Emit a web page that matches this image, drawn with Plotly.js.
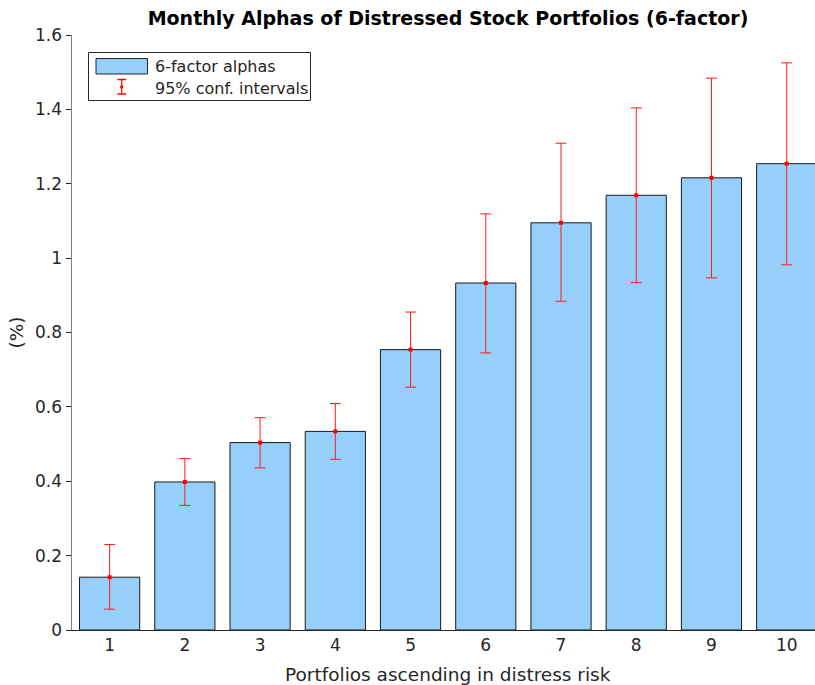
<!DOCTYPE html>
<html>
<head>
<meta charset="utf-8">
<script src="https://cdn.plot.ly/plotly-3.0.1.min.js"></script>
<style>html,body{margin:0;padding:0;background:#fff;}#chart{width:815px;height:685px;}</style>
</head>
<body>
<div id="chart"></div>
<script>
// Data
const portfolios = [1, 2, 3, 4, 5, 6, 7, 8, 9, 10];
const alphas  = [0.142, 0.398, 0.504, 0.534, 0.754, 0.933, 1.095, 1.169, 1.216, 1.254];
const ciLower = [0.056, 0.335, 0.436, 0.459, 0.653, 0.745, 0.884, 0.934, 0.947, 0.982];
const ciUpper = [0.230, 0.461, 0.571, 0.609, 0.855, 1.119, 1.309, 1.404, 1.484, 1.525];
const yTicks = [0, 0.2, 0.4, 0.6, 0.8, 1, 1.2, 1.4, 1.6];
const yTickText = ['0', '0.2', '0.4', '0.6', '0.8', '1', '1.2', '1.4', '1.6'];

const errPlus = alphas.map((v, i) => ciUpper[i] - v);
const errMinus = alphas.map((v, i) => v - ciLower[i]);

const FONT = 'DejaVu Sans, sans-serif';
const TXT = '#262626';
const W = 815, H = 685;
const ML = 72, MR = 0, MT = 35, MB = 55;
const PW = W - ML - MR, PH = H - MT - MB;
// plot-area ("paper") coords from pixel coords
const px = x => (x - ML) / PW;
const py = y => (H - MB - y) / PH;
// container coords from pixel coords
const cx = x => x / W;
const cy = y => 1 - y / H;

const bars = {
  type: 'bar',
  x: portfolios,
  y: alphas,
  width: 0.8,
  name: '6-factor alphas',
  marker: { color: 'rgb(150,207,250)', line: { color: '#1a1a1a', width: 1 } },
  showlegend: false,
  hoverinfo: 'x+y'
};

const errs = {
  type: 'scatter',
  mode: 'markers',
  x: portfolios,
  y: alphas,
  name: '95% conf. intervals',
  marker: { color: '#ff0000', size: 4, symbol: 'square' },
  error_y: {
    type: 'data', symmetric: false,
    array: errPlus, arrayminus: errMinus,
    color: '#ff1a1a', thickness: 1, width: 5.5
  },
  showlegend: false
};

const shapes = [
  // legend box
  { type: 'rect', xref: 'paper', yref: 'paper', x0: px(88.5), x1: px(310.5), y0: py(100.5), y1: py(52.5),
    line: { color: '#262626', width: 1 }, fillcolor: '#ffffff', layer: 'above' },
  // bar swatch
  { type: 'rect', xref: 'paper', yref: 'paper', x0: px(96), x1: px(147.5), y0: py(74), y1: py(58.5),
    line: { color: '#262626', width: 1 }, fillcolor: 'rgb(150,207,250)', layer: 'above' },
  // errorbar swatch
  { type: 'line', xref: 'paper', yref: 'paper', x0: px(121.7), x1: px(121.7), y0: py(94), y1: py(79.5),
    line: { color: '#ff0000', width: 1.2 }, layer: 'above' },
  { type: 'line', xref: 'paper', yref: 'paper', x0: px(117.5), x1: px(126), y0: py(79.5), y1: py(79.5),
    line: { color: '#ff0000', width: 1.5 }, layer: 'above' },
  { type: 'line', xref: 'paper', yref: 'paper', x0: px(117.5), x1: px(126), y0: py(94), y1: py(94),
    line: { color: '#ff0000', width: 1.5 }, layer: 'above' },
  { type: 'rect', xref: 'paper', yref: 'paper', x0: px(120.2), x1: px(123.2), y0: py(88.5), y1: py(85.5),
    line: { width: 0 }, fillcolor: '#ff0000', layer: 'above' }
];

const annotations = [
  { xref: 'paper', yref: 'paper', x: px(153), y: py(66), xanchor: 'left', yanchor: 'middle',
    text: '6-factor alphas', showarrow: false, font: { family: FONT, size: 16, color: TXT } },
  { xref: 'paper', yref: 'paper', x: px(153), y: py(88), xanchor: 'left', yanchor: 'middle',
    text: '95% conf. intervals', showarrow: false, font: { family: FONT, size: 16, color: TXT } },
  { xref: 'paper', yref: 'paper', x: px(448), y: py(674), xanchor: 'center', yanchor: 'middle',
    text: 'Portfolios ascending in distress risk', showarrow: false, font: { family: FONT, size: 18.5, color: TXT } }
];

const layout = {
  width: W, height: H,
  margin: { l: ML, r: MR, t: MT, b: MB },
  paper_bgcolor: '#ffffff',
  plot_bgcolor: '#ffffff',
  font: { family: FONT, size: 17, color: TXT },
  title: {
    text: '<b>Monthly Alphas of Distressed Stock Portfolios (6-factor)</b>',
    font: { family: FONT, size: 19, color: '#000000' },
    x: cx(448), xref: 'container', xanchor: 'center',
    y: cy(18), yref: 'container', yanchor: 'middle'
  },
  showlegend: false,
  xaxis: {
    range: [0.5, 10.376],
    tickmode: 'array', tickvals: portfolios, ticktext: portfolios.map(String),
    ticks: '', showgrid: false, zeroline: false,
    showline: true, linecolor: '#262626', linewidth: 1,
    tickfont: { family: FONT, size: 17, color: TXT },
    fixedrange: true
  },
  yaxis: {
    range: [0, 1.6],
    tickmode: 'array', tickvals: yTicks, ticktext: yTickText,
    ticks: 'outside', ticklen: 5, tickcolor: '#262626', tickwidth: 1,
    showgrid: false, zeroline: false,
    showline: true, linecolor: '#7f7f7f', linewidth: 1.5,
    tickfont: { family: FONT, size: 17, color: TXT },
    title: { text: '(%)', font: { family: FONT, size: 18.5, color: TXT }, standoff: 6 },
    fixedrange: true
  },
  bargap: 0.2,
  shapes: shapes,
  annotations: annotations
};

Plotly.newPlot('chart', [bars, errs], layout, { displayModeBar: false, staticPlot: true });
</script>
</body>
</html>
